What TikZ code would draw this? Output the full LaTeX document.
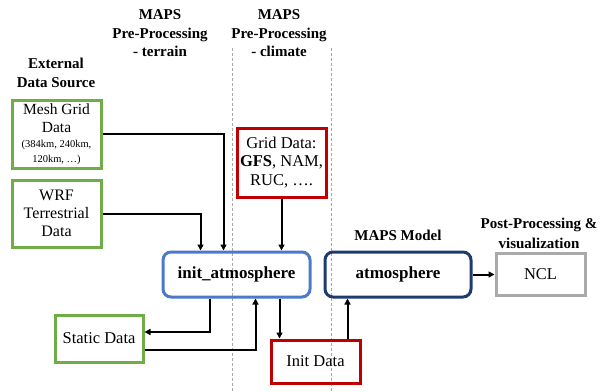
\documentclass[tikz,border=0pt]{standalone}
\usepackage{fontspec}
\setmainfont{Liberation Serif}
\usetikzlibrary{calc,arrows.meta}
\definecolor{gboxc}{HTML}{70AD47}
\definecolor{rboxc}{HTML}{C00000}
\definecolor{bboxc}{HTML}{4A7BC8}
\definecolor{nboxc}{HTML}{1F3A70}
\definecolor{kboxc}{HTML}{AAAAAA}
\definecolor{dashc}{HTML}{A8A8A8}
\tikzset{
  box/.style={draw, line width=3pt, inner sep=0pt, align=center,
    font=\fontsize{16.5}{18.5}\selectfont},
  gbox/.style={box, draw=gboxc},
  rbox/.style={box, draw=rboxc},
  kbox/.style={box, draw=kboxc},
  procbox/.style={box, rounded corners=8pt, font=\fontsize{17}{19}\selectfont\bfseries,
    minimum width=146pt, minimum height=45pt},
  title/.style={align=center, inner sep=0pt, font=\fontsize{15}{18.5}\selectfont\bfseries},
  arr/.style={draw, line width=2pt, -{Triangle[length=6pt,width=6pt]}},
  sep/.style={draw=dashc, line width=0.7pt, dash pattern=on 3pt off 2pt}
}
\begin{document}
\begin{tikzpicture}[x=1pt,y=-1pt]
\useasboundingbox (0,0) rectangle (613,391);
% separators
\draw[sep] (232,48) -- (232,391);
\draw[sep] (331,48) -- (331,391);
% titles
\node[title] (tterr) at (160,33.5) {MAPS\\Pre-Processing\\- terrain};
\node[title] (tclim) at (279,33.5) {MAPS\\Pre-Processing\\- climate};
\node[title] (text) at (56,73) {External\\Data Source};
\node[title] (tmod) at (398,235) {MAPS Model};
\node[title, font=\fontsize{15}{20}\selectfont\bfseries] (tpost) at (539,233) {Post-Processing \&\\visualization};
% boxes
\node[gbox, minimum width=89pt, minimum height=68pt, font=\fontsize{15.5}{18.5}\selectfont] (mesh) at (56.5,134)
  {Mesh Grid\\[-1pt]Data\\[-3pt]{\fontsize{10.5}{11}\selectfont (384km, 240km,}\\[-4pt]{\fontsize{10.5}{11}\selectfont 120km, \dots)}};
\node[gbox, minimum width=89pt, minimum height=67pt, font=\fontsize{16}{18}\selectfont] (wrf) at (56.5,213.5) {WRF\\Terrestrial\\Data};
\node[rbox, minimum width=89pt, minimum height=69pt] (grid) at (281.5,162.5) {Grid Data:\\\textbf{GFS}, NAM,\\RUC, \dots.};
\node[procbox, draw=bboxc, minimum width=147pt] (init) at (236.5,274.5) {init\_atmosphere};
\node[procbox, draw=nboxc] (atm) at (398,274.5) {atmosphere};
\node[kbox, minimum width=89pt, minimum height=42pt] (ncl) at (540.5,274) {NCL};
\node[gbox, minimum width=88pt, minimum height=47pt] (static) at (99,338.5) {Static Data};
\node[rbox, minimum width=89pt, minimum height=43pt] (idata) at (315.5,361.5) {Init Data};
% connectors
\draw[arr] (mesh.east) -| ($(init.north west)+(62,0)$);
\draw[arr] (wrf.east) -| ($(init.north west)+(39,0)$);
\draw[arr] (grid.south) -- (grid.south |- init.north);
\draw[arr] ($(init.south west)+(48,0)$) |- ($(static.east)+(0,-6.5)$);
\draw[arr] ($(static.east)+(0,11.5)$) -| ($(init.south west)+(94,0)$);
\coordinate (p) at ($(init.south west)+(118,0)$);
\draw[arr] (p) -- (p |- idata.north);
\coordinate (q) at ($(idata.north west)+(78,0)$);
\draw[arr] (q) -- (q |- atm.south);
\draw[arr] (atm.east) -- (atm.east -| ncl.west);
\end{tikzpicture}
\end{document}
